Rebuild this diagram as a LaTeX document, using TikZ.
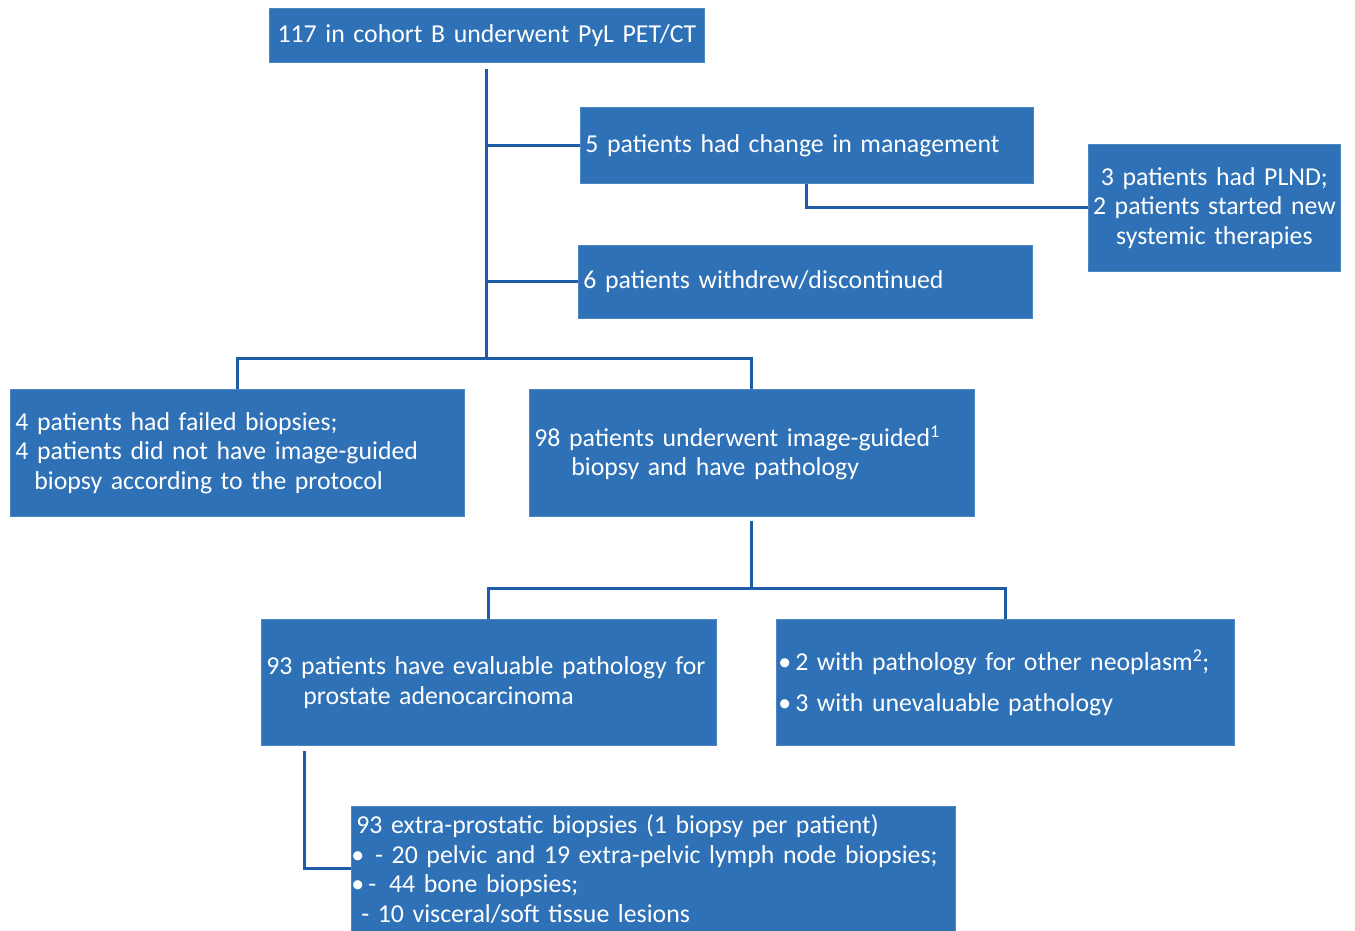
\documentclass[tikz,border=0pt]{standalone}
\usepackage{fontspec}
\setmainfont{Carlito}
\usetikzlibrary{positioning}

\definecolor{boxblue}{RGB}{46,113,182}
\definecolor{linkblue}{RGB}{30,92,168}
\newcommand{\boxfont}{\fontsize{25.8}{29.5}\selectfont\hyphenpenalty=10000}

\tikzset{
    box/.style={draw=boxblue!85!white, line width=0.8pt, fill=boxblue, text=white,
        anchor=north west, inner xsep=5pt, inner ysep=0pt, align=left, font=\boxfont},
    link/.style={draw=linkblue, line width=3pt}
}

\begin{document}
\begin{tikzpicture}[x=1pt, y=-1pt]
    \useasboundingbox (0,0) rectangle (1355,931);

    % Boxes
    \node[box, align=center, minimum width=435pt, minimum height=54pt, text width=425pt] (cohort) at (269,8)
        {117 in cohort B underwent PyL PET/CT};
    \node[box, minimum width=453pt, minimum height=76pt, text width=443pt] (mgmt) at (580,107)
        {5 patients had change in management};
    \node[box, align=center, minimum width=252pt, minimum height=127pt, text width=252pt, inner xsep=0pt] (plnd) at (1088,144)
        {3 patients had PLND;\\2 patients started new\\systemic therapies};
    \node[box, minimum width=454pt, minimum height=73pt, text width=444pt] (withdrew) at (578,245)
        {6 patients withdrew/discontinued};
    \node[box, minimum width=454pt, minimum height=127pt, text width=444pt] (failed) at (10,389)
        {4 patients had failed biopsies;\\4 patients did not have image-guided\\\hspace*{19pt}biopsy according to the protocol};
    \node[box, minimum width=445pt, minimum height=127pt, text width=435pt] (biopsy) at (529,389)
        {98 patients underwent image-guided\textsuperscript{1}\\\hspace*{37pt}biopsy and have pathology};
    \node[box, minimum width=455pt, minimum height=126pt, text width=445pt] (evaluable) at (261,619)
        {93 patients have evaluable pathology for\\\hspace*{37pt}prostate adenocarcinoma};
    \node[box, minimum width=458pt, minimum height=126pt, text width=454pt, inner xsep=2pt] (other) at (776,619)
        {\textbullet\hspace{4pt}2 with pathology for other neoplasm\textsuperscript{2};\\[11.5pt]\textbullet\hspace{4pt}3 with unevaluable pathology};
    \node[box, minimum width=604pt, minimum height=125pt, text width=594pt] (extra) at (351,806)
        {93 extra-prostatic biopsies (1 biopsy per patient)\\
         \hspace*{-5pt}\textbullet\hspace{11pt}- 20 pelvic and 19 extra-pelvic lymph node biopsies;\\
         \hspace*{-5pt}\textbullet\hspace{4pt}-\hspace{13pt}44 bone biopsies;\\
         \hspace*{5pt}- 10 visceral/soft tissue lesions};

    % Connectors
    \coordinate (split) at (cohort.south |- 0,358);
    \draw[link] ([yshift=-6pt]cohort.south) -- (split);
    \draw[link] (cohort.south |- mgmt.west) -- (mgmt.west);
    \draw[link] (cohort.south |- withdrew.west) -- (withdrew.west);
    \draw[link] (mgmt.south) |- (plnd.west);
    \draw[link] (failed.north) |- (split) -| (biopsy.north);

    \coordinate (split2) at (biopsy.south |- 0,588);
    \draw[link] ([yshift=-4pt]biopsy.south) -- (split2);
    \draw[link] (evaluable.north) |- (split2) -| (other.north);

    \coordinate (tap) at ([xshift=43pt, yshift=-5pt]evaluable.south west);
    \draw[link] (tap) |- (extra.west);
\end{tikzpicture}
\end{document}
